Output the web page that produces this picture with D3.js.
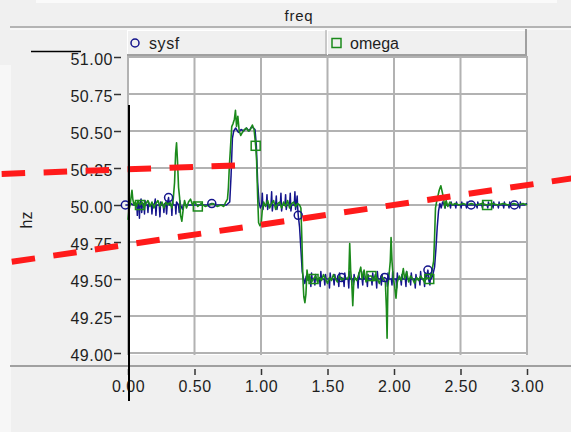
<!DOCTYPE html>
<html>
<head>
<meta charset="utf-8">
<script src="https://cdn.jsdelivr.net/npm/d3@7"></script>
<style>
  html, body { margin: 0; padding: 0; background: #f0f0f0; }
  svg { display: block; }
  text { font-family: "Liberation Sans", Arial, sans-serif; fill: #1e1e1e; }
</style>
</head>
<body>
<svg id="chart" width="571" height="432"></svg>
<script>
// ---- data ---------------------------------------------------------------
const chartTitle = "freq";
const yLabel = "hz";
const seriesNames = ["sysf", "omega"];
const xTicks = [0, 0.5, 1.0, 1.5, 2.0, 2.5, 3.0];
const yTicks = [49.00, 49.25, 49.50, 49.75, 50.00, 50.25, 50.50, 50.75, 51.00];

// system frequency [time s, hz]
const sysf = [
  [-0.02,50.00],[0.00,50.00],[0.02,50.01],[0.04,50.00],[0.06,50.00],
  [0.066,50.01],[0.07,49.93],[0.074,50.02],[0.078,50.00],[0.082,50.00],[0.086,49.91],[0.09,50.01],
  [0.098,50.04],[0.103,49.95],[0.108,50.00],[0.12,50.01],[0.124,49.94],[0.128,50.03],[0.132,50.00],
  [0.146,50.00],[0.15,49.95],[0.155,50.02],[0.16,50.00],[0.176,50.00],[0.18,49.94],[0.185,50.00],
  [0.2,50.01],[0.205,50.04],[0.21,49.93],[0.215,50.00],[0.235,50.00],[0.24,49.92],[0.245,50.02],[0.25,50.00],
  [0.265,50.00],[0.27,49.95],[0.275,50.01],[0.285,50.00],[0.29,49.94],[0.296,50.01],[0.305,50.05],[0.31,50.00],
  [0.326,50.00],[0.33,49.93],[0.335,50.03],[0.34,50.00],[0.356,50.00],[0.36,49.94],[0.365,50.02],
  [0.38,50.00],[0.385,49.95],[0.39,50.03],[0.395,50.00],[0.41,49.97],[0.415,50.00],
  [0.45,50.00],[0.50,50.00],[0.55,50.00],[0.60,50.00],[0.63,50.01],[0.66,50.00],[0.70,50.00],[0.74,50.00],
  [0.765,50.02],[0.775,50.20],[0.785,50.45],[0.795,50.50],[0.81,50.52],[0.83,50.49],[0.85,50.51],[0.87,50.50],
  [0.89,50.52],[0.91,50.50],[0.93,50.53],[0.955,50.51],[0.965,50.40],[0.975,50.15],[0.985,50.02],[0.995,49.98],
  [1.005,50.00],[1.01,50.08],[1.015,49.97],[1.02,50.00],[1.04,50.00],[1.045,50.07],[1.05,49.97],[1.055,50.00],
  [1.075,50.00],[1.08,50.09],[1.085,49.96],[1.09,50.00],[1.11,50.00],[1.115,50.06],[1.12,49.97],[1.125,50.00],
  [1.145,50.00],[1.15,50.08],[1.155,49.96],[1.16,50.00],[1.18,50.00],[1.185,50.07],[1.19,49.97],[1.195,50.00],
  [1.215,50.00],[1.22,50.08],[1.225,49.96],[1.23,50.00],[1.25,50.00],[1.255,50.09],[1.26,49.97],[1.265,50.00],
  [1.272,50.06],[1.276,49.98],[1.28,49.93],[1.29,49.85],[1.30,49.70],[1.31,49.55],[1.32,49.50],
  [1.33,49.47],[1.34,49.52],[1.35,49.50],[1.37,49.50],[1.375,49.45],[1.38,49.54],[1.385,49.50],
  [1.40,49.50],[1.405,49.46],[1.41,49.53],[1.415,49.50],[1.44,49.50],[1.445,49.45],[1.45,49.55],[1.455,49.50],
  [1.475,49.50],[1.48,49.46],[1.485,49.53],[1.49,49.50],[1.51,49.50],[1.515,49.44],[1.52,49.54],[1.525,49.50],
  [1.545,49.50],[1.55,49.46],[1.555,49.53],[1.56,49.50],[1.58,49.50],[1.585,49.45],[1.59,49.54],[1.595,49.50],
  [1.605,49.51],[1.62,49.50],[1.625,49.45],[1.63,49.54],[1.635,49.50],[1.655,49.50],[1.66,49.44],[1.665,49.55],
  [1.67,49.50],[1.69,49.50],[1.695,49.46],[1.70,49.53],[1.705,49.50],[1.725,49.50],[1.73,49.44],[1.735,49.54],
  [1.74,49.50],[1.76,49.50],[1.765,49.46],[1.77,49.55],[1.775,49.50],[1.795,49.50],[1.80,49.45],[1.805,49.53],
  [1.81,49.50],[1.83,49.50],[1.835,49.46],[1.84,49.54],[1.845,49.50],[1.865,49.50],[1.87,49.44],[1.875,49.55],
  [1.88,49.50],[1.90,49.50],[1.905,49.46],[1.91,49.53],[1.915,49.50],[1.93,49.51],[1.945,49.50],[1.95,49.45],
  [1.955,49.54],[1.96,49.50],[1.98,49.50],[1.985,49.46],[1.99,49.55],[1.995,49.50],[2.015,49.50],[2.02,49.44],
  [2.025,49.54],[2.03,49.50],[2.05,49.50],[2.055,49.46],[2.06,49.53],[2.065,49.50],[2.085,49.50],[2.09,49.45],
  [2.095,49.55],[2.10,49.50],[2.12,49.50],[2.125,49.46],[2.13,49.54],[2.135,49.50],[2.155,49.50],[2.16,49.44],
  [2.165,49.53],[2.17,49.50],[2.19,49.50],[2.195,49.46],[2.20,49.55],[2.205,49.50],[2.225,49.50],[2.23,49.45],
  [2.235,49.54],[2.24,49.50],[2.255,49.56],[2.26,49.50],[2.27,49.46],[2.275,49.53],[2.28,49.50],[2.29,49.52],
  [2.305,49.58],[2.315,49.70],[2.325,49.85],[2.335,49.96],[2.345,50.01],[2.355,49.98],[2.365,50.02],
  [2.38,50.00],[2.385,49.98],[2.39,50.02],[2.395,50.00],[2.42,50.00],[2.425,49.98],[2.43,50.02],[2.435,50.00],
  [2.46,50.00],[2.465,49.98],[2.47,50.02],[2.475,50.00],[2.50,50.00],[2.505,49.98],[2.51,50.02],[2.515,50.00],
  [2.54,50.00],[2.545,49.98],[2.55,50.02],[2.555,50.00],[2.58,50.00],[2.62,50.00],[2.625,49.98],[2.63,50.02],
  [2.635,50.00],[2.66,50.00],[2.665,49.98],[2.67,50.02],[2.675,50.00],[2.70,50.00],[2.705,49.98],[2.71,50.02],
  [2.715,50.00],[2.74,50.00],[2.745,49.98],[2.75,50.02],[2.755,50.00],[2.78,50.00],[2.785,49.98],[2.79,50.02],
  [2.795,50.00],[2.82,50.00],[2.825,49.98],[2.83,50.02],[2.835,50.00],[2.86,50.00],[2.865,49.98],[2.87,50.02],
  [2.875,50.00],[2.905,50.00],[2.94,50.00],[2.945,49.98],[2.95,50.02],[2.955,50.00],[2.98,50.00],[3.00,50.01]
];

// rotor speed expressed as frequency [time s, hz]
const omega = [
  [0.00,49.90],[0.008,49.97],[0.016,50.00],[0.024,50.06],[0.03,50.10],[0.036,50.04],[0.045,50.00],[0.055,50.02],
  [0.065,49.99],[0.075,50.03],[0.09,50.00],[0.105,50.02],[0.12,49.98],[0.135,50.01],[0.15,50.03],[0.165,49.99],
  [0.18,50.02],[0.195,49.98],[0.21,50.01],[0.225,50.03],[0.24,49.99],[0.255,50.02],[0.27,49.98],[0.285,50.02],
  [0.30,50.00],[0.315,50.02],[0.33,49.98],[0.34,50.04],[0.35,50.15],[0.358,50.35],[0.365,50.42],[0.372,50.30],
  [0.38,50.12],[0.388,50.05],[0.395,49.93],[0.405,49.89],[0.415,49.97],[0.425,50.03],[0.44,49.98],[0.455,50.02],
  [0.47,50.04],[0.485,50.00],[0.50,50.02],[0.525,49.99],[0.55,50.01],[0.58,49.99],[0.61,50.00],[0.64,50.01],
  [0.67,49.99],[0.70,50.00],[0.72,49.99],[0.735,50.02],[0.748,50.04],[0.755,50.12],[0.762,50.26],[0.77,50.38],
  [0.78,50.53],[0.79,50.55],[0.80,50.58],[0.808,50.64],[0.816,50.53],[0.826,50.60],[0.836,50.50],[0.848,50.47],
  [0.86,50.49],[0.875,50.51],[0.89,50.52],[0.905,50.50],[0.92,50.51],[0.935,50.54],[0.948,50.51],[0.96,50.40],
  [0.967,50.30],[0.975,50.05],[0.982,49.88],[0.992,49.86],[1.002,49.88],[1.01,49.97],[1.02,50.02],[1.035,49.99],
  [1.05,50.03],[1.065,49.98],[1.08,50.01],[1.095,50.03],[1.11,49.97],[1.125,50.01],[1.14,50.02],[1.155,49.98],
  [1.17,50.02],[1.185,49.99],[1.20,50.03],[1.215,49.98],[1.23,50.01],[1.245,50.02],[1.26,49.99],[1.275,50.01],
  [1.29,50.00],[1.30,49.98],[1.308,49.75],[1.315,49.50],[1.322,49.38],[1.33,49.34],[1.338,49.40],[1.346,49.56],
  [1.355,49.49],[1.365,49.52],[1.38,49.48],[1.395,49.50],[1.41,49.52],[1.425,49.48],[1.44,49.51],[1.455,49.49],
  [1.47,49.53],[1.485,49.50],[1.50,49.47],[1.515,49.51],[1.53,49.49],[1.545,49.53],[1.56,49.50],[1.575,49.48],
  [1.59,49.52],[1.61,49.49],[1.63,49.51],[1.65,49.50],[1.66,49.52],[1.667,49.74],[1.674,49.56],[1.682,49.48],
  [1.69,49.32],[1.697,49.47],[1.705,49.51],[1.72,49.49],[1.735,49.53],[1.75,49.58],[1.76,49.50],[1.775,49.56],
  [1.79,49.48],[1.805,49.52],[1.83,49.52],[1.845,49.49],[1.86,49.53],[1.875,49.50],[1.89,49.47],[1.905,49.52],
  [1.92,49.50],[1.935,49.48],[1.943,49.30],[1.948,49.10],[1.954,49.45],[1.962,49.52],[1.972,49.62],[1.978,49.78],
  [1.985,49.62],[1.995,49.50],[2.005,49.45],[2.015,49.37],[2.025,49.48],[2.04,49.52],[2.055,49.49],[2.07,49.57],
  [2.08,49.50],[2.095,49.55],[2.11,49.48],[2.125,49.52],[2.14,49.50],[2.155,49.47],[2.17,49.51],[2.185,49.49],
  [2.20,49.52],[2.215,49.50],[2.23,49.48],[2.245,49.51],[2.265,49.50],[2.28,49.52],[2.29,49.58],[2.298,49.62],
  [2.305,49.78],[2.312,49.98],[2.32,50.02],[2.33,50.06],[2.34,50.10],[2.352,50.13],[2.362,50.09],[2.372,50.05],
  [2.382,49.98],[2.392,50.03],[2.405,49.99],[2.42,50.02],[2.44,50.00],[2.46,50.01],[2.49,50.00],[2.52,50.01],
  [2.55,50.00],[2.58,50.01],[2.62,50.00],[2.66,50.01],[2.70,50.00],[2.74,50.01],[2.78,50.00],[2.82,50.01],
  [2.86,50.00],[2.90,50.01],[2.94,50.00],[2.97,50.01],[3.00,50.00]
];

// sample times that carry a marker symbol
const sysfMarkerTimes = [-0.02, 0.305, 0.63, 1.28, 1.605, 1.93, 2.255, 2.58, 2.905];
const omegaMarkerTimes = [0.09, 0.525, 0.96, 1.395, 1.83, 2.265, 2.70];

// hand-drawn red dashed guide lines [time s, hz]
const guideUpper = [[-0.950, 50.210], [0.814, 50.268]];
const guideLower = [[-0.874, 49.616], [3.369, 50.184]];

// ---- drawing --------------------------------------------------------------
const svg = d3.select("#chart");
const W = 571, H = 432;
const x = d3.scaleLinear().domain([0, 3]).range([128, 527]);
const y = d3.scaleLinear().domain([49, 51]).range([353, 57]);

const C = {
  bg: "#f0f0f0", grid: "#b2b2b2", frame: "#a0a0a0",
  sysf: "#14148c", omega: "#1b8a1b", guide: "#ff1a1a"
};

svg.append("rect").attr("width", W).attr("height", H).attr("fill", C.bg);
svg.append("rect").attr("x", 0).attr("y", 65).attr("width", 11).attr("height", H - 65).attr("fill", "#f7f7f7");
svg.append("rect").attr("x", 36).attr("y", 0).attr("width", 521).attr("height", 3).attr("fill", "#fafafa");

// title band
svg.append("text").attr("x", 299).attr("y", 21).attr("text-anchor", "middle")
  .style("font-size", "15px").style("letter-spacing", "0.8px").text(chartTitle);
svg.append("line").attr("x1", 10).attr("x2", W).attr("y1", 27).attr("y2", 27)
  .attr("stroke", C.frame).attr("stroke-width", 1.5);
svg.append("line").attr("x1", 10).attr("x2", W).attr("y1", 29).attr("y2", 29)
  .attr("stroke", "#ffffff").attr("stroke-width", 1);

// plot area
svg.append("rect").attr("x", x(0) - 1).attr("y", 56).attr("width", x(3) - x(0) + 1).attr("height", 299)
  .attr("fill", "#ffffff");

const grid = svg.append("g").attr("stroke", C.grid).attr("stroke-width", 2);
grid.selectAll("line.v").data(xTicks).join("line").attr("class", "v")
  .attr("x1", d => x(d)).attr("x2", d => x(d)).attr("y1", 56).attr("y2", 355);
grid.selectAll("line.h").data(yTicks).join("line").attr("class", "h")
  .attr("x1", x(0)).attr("x2", x(3)).attr("y1", d => y(d)).attr("y2", d => y(d));

// separator under the plot
svg.append("line").attr("x1", 10).attr("x2", W).attr("y1", 366).attr("y2", 366)
  .attr("stroke", C.frame).attr("stroke-width", 2);

// axes
const fmt = d3.format(".2f");
const yAxis = svg.append("g").attr("transform", "translate(121,0)")
  .call(d3.axisLeft(y).tickValues(yTicks).tickFormat(fmt).tickSize(7).tickPadding(1));
yAxis.select(".domain").remove();
yAxis.selectAll(".tick line").attr("stroke", "#333").attr("stroke-width", 1.5);
yAxis.selectAll(".tick text").attr("dy", "0.46em")
  .style("font-size", "16px").style("letter-spacing", "0.5px").style("font-family", "Liberation Sans, Arial, sans-serif")
  .attr("fill", "#1e1e1e");

const xAxis = svg.append("g").attr("transform", "translate(0,369)")
  .call(d3.axisBottom(x).tickValues(xTicks).tickFormat(fmt).tickSize(6).tickPadding(6));
xAxis.select(".domain").remove();
xAxis.selectAll(".tick line").attr("stroke", "#333").attr("stroke-width", 1.5);
xAxis.selectAll(".tick text")
  .style("font-size", "16px").style("letter-spacing", "0.5px").style("font-family", "Liberation Sans, Arial, sans-serif")
  .attr("fill", "#1e1e1e");

svg.append("text").attr("transform", "translate(32,220) rotate(-90)").attr("text-anchor", "middle")
  .style("font-size", "16px").text(yLabel);

// series
const line = d3.line().x(d => x(d[0])).y(d => y(d[1]));
svg.append("path").datum(sysf).attr("d", line).attr("fill", "none")
  .attr("stroke", C.sysf).attr("stroke-width", 1.5).attr("stroke-linejoin", "round");
svg.append("path").datum(omega).attr("d", line).attr("fill", "none")
  .attr("stroke", C.omega).attr("stroke-width", 1.6).attr("stroke-linejoin", "round");

svg.append("g").selectAll("circle")
  .data(sysf.filter(d => sysfMarkerTimes.includes(d[0])))
  .join("circle").attr("cx", d => x(d[0])).attr("cy", d => y(d[1])).attr("r", 4)
  .attr("fill", "none").attr("stroke", C.sysf).attr("stroke-width", 1.5);
svg.append("g").selectAll("rect")
  .data(omega.filter(d => omegaMarkerTimes.includes(d[0])))
  .join("rect").attr("x", d => x(d[0]) - 4.5).attr("y", d => y(d[1]) - 4.5)
  .attr("width", 9).attr("height", 9)
  .attr("fill", "none").attr("stroke", C.omega).attr("stroke-width", 1.5);

// legend bar
const lg = svg.append("g");
lg.append("rect").attr("x", 127).attr("y", 30).attr("width", 399).attr("height", 26).attr("fill", C.bg);
lg.append("line").attr("x1", 127).attr("x2", 526).attr("y1", 30.5).attr("y2", 30.5).attr("stroke", "#fff");
lg.append("line").attr("x1", 127.5).attr("x2", 127.5).attr("y1", 30).attr("y2", 56).attr("stroke", "#fff");
lg.append("line").attr("x1", 127).attr("x2", 527).attr("y1", 55).attr("y2", 55).attr("stroke", C.frame).attr("stroke-width", 2);
lg.append("line").attr("x1", 526).attr("x2", 526).attr("y1", 29).attr("y2", 56).attr("stroke", C.frame).attr("stroke-width", 2);
lg.append("line").attr("x1", 326).attr("x2", 326).attr("y1", 30).attr("y2", 55).attr("stroke", C.frame).attr("stroke-width", 1);
lg.append("line").attr("x1", 327.5).attr("x2", 327.5).attr("y1", 30).attr("y2", 55).attr("stroke", "#fff").attr("stroke-width", 1);
lg.append("circle").attr("cx", 135).attr("cy", 43).attr("r", 4)
  .attr("fill", "none").attr("stroke", C.sysf).attr("stroke-width", 1.5);
lg.append("text").attr("x", 149).attr("y", 49).style("font-size", "16px").style("letter-spacing", "0.6px").text(seriesNames[0]);
lg.append("rect").attr("x", 332).attr("y", 38.5).attr("width", 9).attr("height", 9)
  .attr("fill", "none").attr("stroke", C.omega).attr("stroke-width", 1.5);
lg.append("text").attr("x", 350).attr("y", 49).style("font-size", "16px").text(seriesNames[1]);

// red dashed guide lines
[guideUpper, guideLower].forEach(g => {
  svg.append("path").datum(g).attr("d", line).attr("fill", "none")
    .attr("stroke", C.guide).attr("stroke-width", 6).attr("stroke-dasharray", "23.5 18.5");
});

// black marker strokes
svg.append("line").attr("x1", 31).attr("x2", 81).attr("y1", 51.5).attr("y2", 51.5)
  .attr("stroke", "#000").attr("stroke-width", 1.5);
svg.append("line").attr("x1", 129).attr("x2", 129).attr("y1", 105).attr("y2", 401)
  .attr("stroke", "#000").attr("stroke-width", 2);
</script>
</body>
</html>
